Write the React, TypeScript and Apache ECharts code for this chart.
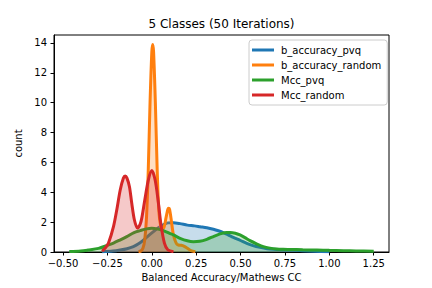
import React, { useEffect, useRef } from "react";
import * as echarts from "echarts";

const seriesNames = ["b_accuracy_pvq", "b_accuracy_random", "Mcc_pvq", "Mcc_random"];
const seriesColors = ["#1f77b4", "#ff7f0e", "#2ca02c", "#d62728"];

const bAccPvqX = [-0.28, -0.22, -0.178, -0.14, -0.104, -0.075, -0.047, -0.02, 0.009, 0.035, 0.065, 0.09, 0.122, 0.159, 0.2, 0.24, 0.272, 0.31, 0.347, 0.375, 0.403, 0.43, 0.459, 0.5, 0.535, 0.57, 0.61, 0.65, 0.685, 0.73, 0.78, 0.85, 0.92, 1.0];
const bAccPvqY = [0.02, 0.06, 0.13, 0.22, 0.36, 0.55, 0.8, 1.08, 1.36, 1.6, 1.82, 1.95, 1.96, 1.9, 1.8, 1.75, 1.69, 1.62, 1.52, 1.42, 1.3, 1.15, 0.98, 0.77, 0.58, 0.43, 0.31, 0.22, 0.18, 0.15, 0.13, 0.09, 0.05, 0.02];

const bAccRandomX = [-0.075, -0.06, -0.05, -0.04, -0.03, -0.02, -0.01, 0, 0.005, 0.01, 0.02, 0.03, 0.04, 0.05, 0.06, 0.07, 0.08, 0.09, 0.095, 0.1, 0.11, 0.12, 0.13, 0.14, 0.15, 0.165, 0.18, 0.2, 0.22, 0.245];
const bAccRandomY = [0.02, 0.08, 0.25, 0.8, 2.3, 5.5, 10, 13.4, 13.9, 13.4, 10, 5.6, 2.7, 1.75, 1.55, 1.7, 2.3, 2.85, 2.93, 2.85, 2.1, 1.25, 0.8, 0.55, 0.47, 0.45, 0.4, 0.25, 0.1, 0.02];

const mccPvqX = [-0.465, -0.4, -0.36, -0.3, -0.25, -0.216, -0.18, -0.141, -0.1, -0.066, -0.03, 0, 0.03, 0.065, 0.1, 0.122, 0.159, 0.2, 0.234, 0.27, 0.31, 0.35, 0.385, 0.42, 0.441, 0.47, 0.497, 0.525, 0.553, 0.59, 0.628, 0.665, 0.704, 0.74, 0.78, 0.85, 0.93, 1.0, 1.08, 1.15, 1.25];
const mccPvqY = [0.03, 0.07, 0.13, 0.24, 0.45, 0.6, 0.8, 1.03, 1.3, 1.43, 1.55, 1.59, 1.55, 1.43, 1.25, 1.14, 0.92, 0.75, 0.69, 0.72, 0.85, 1.05, 1.21, 1.3, 1.31, 1.26, 1.14, 0.96, 0.76, 0.55, 0.36, 0.26, 0.2, 0.18, 0.17, 0.15, 0.13, 0.11, 0.09, 0.07, 0.05];

const mccRandomX = [-0.28, -0.26, -0.244, -0.216, -0.197, -0.178, -0.16, -0.15, -0.14, -0.126, -0.113, -0.098, -0.081, -0.066, -0.056, -0.038, -0.019, 0, 0.019, 0.037, 0.052, 0.071, 0.09, 0.122];
const mccRandomY = [0.05, 0.3, 0.6, 1.7, 2.85, 4.15, 4.95, 5.09, 4.95, 4.37, 3.26, 2.14, 1.6, 1.85, 2.3, 3.6, 4.85, 5.45, 4.8, 3.3, 1.8, 0.6, 0.15, 0.02];

const xTickValues = [-0.5, -0.25, 0, 0.25, 0.5, 0.75, 1.0, 1.25];
const yTickValues = [0, 2, 4, 6, 8, 10, 12, 14];

const titleText = "5 Classes (50 Iterations)";
const xAxisTitle = "Balanced Accuracy/Mathews CC";
const yAxisTitle = "count";

const FONT = "DejaVu Sans";

function zip(xs: number[], ys: number[]) {
  return xs.map((x, i) => [x, ys[i]]);
}

export default function App() {
  const ref = useRef<HTMLDivElement>(null);
  useEffect(() => {
    if (!ref.current) return;
    const chart = echarts.init(ref.current, undefined, { renderer: "svg" });
    const allData = [
      zip(bAccPvqX, bAccPvqY),
      zip(bAccRandomX, bAccRandomY),
      zip(mccPvqX, mccPvqY),
      zip(mccRandomX, mccRandomY),
    ];
    const fmt = (v: number) => (v < 0 ? "\u2212" : "") + Math.abs(v).toFixed(2);
    chart.setOption({
      animation: false,
      backgroundColor: "#ffffff",
      textStyle: { fontFamily: FONT },
      grid: {
        left: 54,
        right: 43,
        top: 35,
        bottom: 36,
        show: true,
        borderColor: "#000",
        borderWidth: 1,
        backgroundColor: "transparent",
      },
      graphic: [
        {
          type: "text",
          x: 221.5,
          y: 24,
          style: {
            text: titleText,
            fontFamily: FONT,
            fontSize: 12,
            fill: "#000",
            align: "center",
            verticalAlign: "middle",
          },
        },
      ],
      legend: {
        orient: "vertical",
        left: 249,
        top: 40,
        width: 135,
        padding: [4, 6, 4, 3],
        itemGap: 3,
        itemWidth: 22,
        itemHeight: 3,
        icon: "rect",
        backgroundColor: "rgba(255,255,255,0.8)",
        borderColor: "#cccccc",
        borderWidth: 1,
        borderRadius: 3,
        textStyle: { fontFamily: FONT, fontSize: 10, color: "#000", lineHeight: 12, padding: [0, 0, 0, 2] },
        data: seriesNames,
      },
      xAxis: {
        type: "value",
        min: -0.551,
        max: 1.336,
        name: xAxisTitle,
        nameLocation: "middle",
        nameGap: 20,
        nameTextStyle: { fontFamily: FONT, fontSize: 10, color: "#000" },
        splitLine: { show: false },
        axisLine: { show: true, onZero: false, lineStyle: { color: "#000", width: 1 } },
        axisTick: { show: true, length: 3.5, customValues: xTickValues, lineStyle: { color: "#000" } },
        axisLabel: { customValues: xTickValues, formatter: fmt, fontFamily: FONT, fontSize: 10, color: "#000", margin: 6 },
      },
      yAxis: {
        type: "value",
        min: 0,
        max: 14.53,
        name: yAxisTitle,
        nameLocation: "middle",
        nameGap: 25,
        nameRotate: 90,
        nameTextStyle: { fontFamily: FONT, fontSize: 10, color: "#000" },
        splitLine: { show: false },
        axisLine: { show: true, onZero: false, lineStyle: { color: "#000", width: 1 } },
        axisTick: { show: true, length: 3.5, customValues: yTickValues, lineStyle: { color: "#000" } },
        axisLabel: { customValues: yTickValues, fontFamily: FONT, fontSize: 10, color: "#000", margin: 7 },
      },
      series: seriesNames.map((name, i) => ({
        name,
        type: "line",
        data: allData[i],
        smooth: 0.3,
        symbol: "none",
        color: seriesColors[i],
        lineStyle: { color: seriesColors[i], width: 3 },
        areaStyle: { color: seriesColors[i], opacity: 0.25 },
        z: 2 + i,
      })),
    });
    return () => chart.dispose();
  }, []);
  return <div ref={ref} style={{ width: 432, height: 288, position: "absolute", left: 0, top: 0 }} />;
}
